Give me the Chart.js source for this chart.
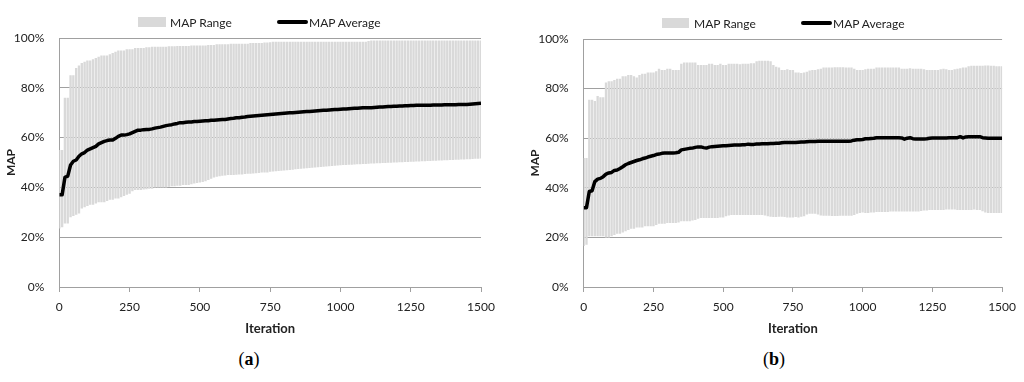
<!DOCTYPE html>
<html>
<head>
<meta charset="utf-8">
<script src="https://cdn.jsdelivr.net/npm/chart.js@4.4.0/dist/chart.umd.min.js"></script>
<style>
  body { margin: 0; background: #fff; width: 1024px; height: 382px; overflow: hidden; position: relative; font-family: Lato, "Open Sans", sans-serif; }
  canvas { position: absolute; top: 0; }
  .swatch { position: absolute; height: 10px; background: #d9d9d9; }
  .lineKey { position: absolute; height: 4px; background: #000; border-radius: 2px; }
  .legText { position: absolute; font-size: 12px; line-height: 14px; color: #222; white-space: nowrap; }
  .caption { position: absolute; top: 349px; width: 100px; text-align: center; font-family: "Liberation Serif", serif; font-size: 18px; color: #000; }
</style>
</head>
<body>
<canvas id="chartA" width="512" height="345" style="left:0px"></canvas>
<canvas id="chartB" width="512" height="345" style="left:512px"></canvas>

<!-- legends -->
<div class="swatch" style="left:138px; top:17px; width:28px;"></div>
<div class="legText" style="left:170px; top:16px;">MAP Range</div>
<div class="lineKey" style="left:277px; top:20px; width:31px;"></div>
<div class="legText" style="left:309px; top:16px;">MAP Average</div>

<div class="swatch" style="left:662px; top:18px; width:27px;"></div>
<div class="legText" style="left:694px; top:17px;">MAP Range</div>
<div class="lineKey" style="left:801px; top:21px; width:31px;"></div>
<div class="legText" style="left:833px; top:17px;">MAP Average</div>

<div class="caption" style="left:199px;">(<b>a</b>)</div>
<div class="caption" style="left:724px;">(<b>b</b>)</div>

<script>
// iterations sampled every 10 steps, 0 .. 1500
const iterations = Array.from({ length: 151 }, (_, i) => i * 10);
const yTicks = [0, 20, 40, 60, 80, 100];

// panel (a)
const maxA = [55, 55, 76, 76, 85, 85, 88, 89, 90, 90.5,
  91, 91, 91.5, 92, 92.5, 93, 93, 93, 93.5, 94,
  94.5, 95, 95, 95, 95.5, 95.5, 95.5, 96, 96, 96,
  96, 96.3, 96.3, 96.5, 96.5, 96.5, 96.5, 96.5, 96.5, 96.7,
  96.7, 96.7, 96.8, 96.8, 96.8, 96.8, 96.8, 97, 97, 97,
  97, 97, 97, 97.2, 97.2, 97.2, 97.5, 97.5, 97.5, 97.5,
  97.5, 97.7, 97.7, 97.7, 97.7, 97.7, 97.7, 97.7, 98, 98,
  98, 98, 98, 98.2, 98.2, 98.3, 98.5, 98.5, 98.5, 98.5,
  98.5, 98.5, 98.5, 98.5, 98.5, 98.5, 98.5, 98.5, 98.5, 98.5,
  98.5, 98.5, 98.5, 98.5, 98.5, 98.5, 98.5, 98.5, 98.5, 98.5,
  98.5, 98.5, 98.5, 98.5, 98.5, 98.5, 98.5, 98.5, 98.5, 98.5,
  98.8, 99, 99, 99, 99, 99, 99, 99, 99, 99,
  99, 99, 99, 99, 99, 99, 99, 99, 99, 99,
  99, 99, 99, 99, 99, 99, 99, 99, 99, 99,
  99, 99, 99, 99, 99, 99, 99, 99, 99, 99, 99];

const minA = [23.5, 24, 25.5, 25.5, 28, 28.5, 29, 29.5, 31.5, 32,
  32.5, 33, 33, 33.5, 34, 34, 34, 34.5, 35, 35,
  35.5, 35.5, 36, 36.5, 37, 37.5, 38.5, 39, 39, 39,
  39.2, 39.3, 39.5, 39.5, 40, 40, 40, 40, 40, 40.3,
  40.5, 40.5, 40.7, 40.7, 41, 41, 41, 41.3, 41.6, 41.8,
  42, 42.2, 42.5, 43, 43.5, 44, 44.3, 44.5, 44.7, 44.8,
  45, 45, 45, 45.1, 45.2, 45.2, 45.4, 45.5, 45.5, 45.6,
  45.7, 45.8, 46, 46, 46, 46.3, 46.4, 46.5, 46.6, 46.7,
  46.8, 46.9, 47, 47.1, 47.3, 47.4, 47.5, 47.6, 47.7, 47.8,
  47.9, 48, 48.1, 48.2, 48.3, 48.4, 48.5, 48.6, 48.7, 48.8,
  48.9, 49, 49, 49.1, 49.1, 49.2, 49.3, 49.3, 49.4, 49.4,
  49.5, 49.6, 49.6, 49.7, 49.7, 49.8, 49.8, 49.9, 49.9, 50,
  50, 50.1, 50.1, 50.2, 50.2, 50.3, 50.3, 50.4, 50.4, 50.5,
  50.5, 50.6, 50.6, 50.7, 50.7, 50.8, 50.8, 50.9, 50.9, 51,
  51, 51.1, 51.1, 51.2, 51.2, 51.3, 51.3, 51.4, 51.5, 51.5, 51.6];

const avgA = [37, 37, 44, 44.5, 49, 50.5, 51, 52.5, 53.5, 54,
  55, 55.5, 56, 56.5, 57.5, 58, 58.5, 58.8, 59, 59,
  59.7, 60.5, 61, 61, 61.2, 61.5, 62, 62.5, 63, 63,
  63.2, 63.3, 63.3, 63.5, 63.8, 64, 64.2, 64.5, 64.8, 65,
  65.2, 65.5, 65.7, 66, 66, 66.2, 66.3, 66.3, 66.5, 66.5,
  66.6, 66.7, 66.8, 66.8, 67, 67, 67.1, 67.2, 67.3, 67.3,
  67.5, 67.7, 67.8, 68, 68, 68.2, 68.3, 68.5, 68.6, 68.7,
  68.8, 68.9, 69, 69.1, 69.2, 69.3, 69.4, 69.5, 69.6, 69.7,
  69.8, 69.9, 70, 70, 70.1, 70.2, 70.3, 70.4, 70.5, 70.5,
  70.6, 70.7, 70.8, 70.9, 71, 71, 71.1, 71.2, 71.3, 71.3,
  71.4, 71.5, 71.5, 71.6, 71.7, 71.8, 71.8, 71.9, 72, 72,
  72, 72, 72.1, 72.2, 72.3, 72.3, 72.4, 72.5, 72.5, 72.6,
  72.6, 72.7, 72.7, 72.8, 72.8, 72.9, 72.9, 73, 73, 73,
  73, 73, 73, 73.1, 73.1, 73.1, 73.1, 73.2, 73.2, 73.2,
  73.2, 73.2, 73.3, 73.3, 73.3, 73.3, 73.4, 73.5, 73.6, 73.7, 73.8];

// panel (b)
const maxB = [52, 52, 75.5, 75.5, 75, 77, 76.5, 76.5, 82.5, 83,
  83, 83.5, 84, 84, 85, 85, 85.5, 85.5, 85, 84.5,
  85.5, 86, 86, 86.5, 86.5, 86.5, 87, 88, 87.5, 87.5,
  88, 88, 87.5, 87.5, 87.5, 90, 90.5, 90.5, 90.5, 90.5,
  90.5, 89.5, 89.5, 89.5, 89.5, 90, 90, 89.5, 89.5, 90,
  89.5, 89.5, 90, 90, 90, 90, 89.8, 90, 90, 90,
  90.2, 90.2, 91, 91.2, 91.2, 91.2, 91.2, 91, 89.5, 88.8,
  88.5, 87.5, 87.5, 87.8, 87.5, 87.5, 86.5, 86.5, 86.3, 86.5,
  86.8, 87.3, 87.5, 87.5, 87.8, 88, 88.5, 88.5, 88.5, 88.5,
  88.6, 88.6, 88.6, 88.6, 88.5, 88.5, 88.5, 88, 87.5, 87.5,
  87.5, 87.8, 88, 88, 88, 88.5, 88.5, 88.5, 88.5, 88.5,
  88.5, 88.5, 88.5, 88.5, 88, 88, 88, 88.2, 88, 88,
  88, 88, 87.8, 87.5, 87.5, 87.5, 87.5, 87.5, 87.8, 88,
  87.8, 87.5, 87.5, 87.8, 88, 88.2, 88.5, 88.5, 89, 89.2,
  89.2, 89.2, 89.2, 89.2, 89.3, 89.3, 89.2, 89.2, 89, 89, 89];

const minB = [16.5, 17, 20.5, 20.5, 20.5, 20.5, 20.5, 20.5, 20, 20,
  20.5, 21, 21.5, 21.5, 22, 22.5, 23, 23.5, 23.5, 24,
  24, 24, 24.5, 24.5, 24.5, 24.5, 25, 25.5, 25.5, 25.5,
  25.8, 25.8, 25.8, 25.8, 26, 26.5, 26.5, 26.5, 26.5, 26.8,
  27, 27.5, 27.8, 27.8, 27.8, 27.8, 27.8, 27.8, 27.8, 28,
  28, 28.5, 28.8, 29, 29, 29, 29, 29, 29, 29,
  29, 29, 29, 29, 29, 28.8, 28.5, 28.3, 28.2, 28.2,
  28.3, 28.3, 28.2, 28, 28, 28, 28.2, 28, 28.3, 28.5,
  29.2, 29.5, 29.5, 29.5, 29.2, 28.8, 28.7, 28.7, 28.7, 28.6,
  28.6, 28.6, 28.7, 28.7, 28.7, 28.7, 28.7, 29, 29.5, 29.8,
  30, 29.8, 29.8, 30, 30, 30.2, 30.2, 30.2, 30.2, 30.2,
  30.4, 30.4, 30.4, 30.4, 30.4, 30.4, 30.4, 30.4, 30.4, 30.4,
  30.4, 30.6, 30.8, 30.8, 31, 31, 31, 31, 31, 31,
  31.2, 31.2, 31.2, 31.2, 31, 31, 31, 31, 31, 31,
  31.2, 31, 31, 30.5, 30, 29.8, 29.8, 29.8, 29.8, 29.8, 29.8];

const avgB = [32, 32, 38.5, 38.8, 42.5, 43.5, 43.8, 44.5, 45.5, 46,
  46.2, 47, 47.2, 47.8, 48.5, 49.3, 49.8, 50.2, 50.6, 51,
  51.3, 51.7, 52, 52.4, 52.7, 53, 53.4, 53.6, 53.9, 54,
  54, 54, 54, 54.1, 54.3, 55.3, 55.5, 55.7, 55.9, 56,
  56.3, 56.5, 56.5, 56.2, 56, 56.4, 56.6, 56.7, 56.8, 56.9,
  57, 57, 57.1, 57.2, 57.3, 57.3, 57.3, 57.4, 57.4, 57.6,
  57.5, 57.5, 57.7, 57.7, 57.8, 57.8, 57.8, 57.9, 57.9, 58,
  58, 58.2, 58.3, 58.3, 58.3, 58.3, 58.3, 58.4, 58.5, 58.5,
  58.6, 58.7, 58.7, 58.7, 58.8, 58.8, 58.8, 58.8, 58.8, 58.8,
  58.8, 58.8, 58.8, 58.8, 58.8, 58.8, 58.9, 59.2, 59.4, 59.4,
  59.5, 59.8, 59.8, 59.9, 60, 60.2, 60.2, 60.2, 60.2, 60.2,
  60.2, 60.2, 60.2, 60.2, 60.1, 59.6, 60, 60.2, 59.8, 59.7,
  59.7, 59.7, 59.7, 59.8, 60, 60.1, 60.1, 60.1, 60.1, 60.1,
  60.1, 60.2, 60.2, 60.2, 60.2, 60.6, 60.1, 60.5, 60.6, 60.6,
  60.6, 60.6, 60.6, 60.2, 60.1, 60, 60, 60, 60, 60, 60];

Chart.defaults.font.family = 'Lato, "Open Sans", sans-serif';
Chart.defaults.color = '#222';

const gridGray = '#a0a0a0';

function buildChart(canvasId, mins, maxs, avgs, pad) {
    const ranges = iterations.map((it, i) => ({ x: it, y: [mins[i], maxs[i]] }));
    const avgPoints = iterations.map((it, i) => ({ x: it, y: avgs[i] }));

    return new Chart(document.getElementById(canvasId), {
        type: 'bar',
        data: {
            datasets: [{
                type: 'line',
                label: 'MAP Average',
                data: avgPoints,
                borderColor: '#000',
                backgroundColor: '#000',
                borderWidth: 3.5,
                pointRadius: 0,
                tension: 0,
                borderJoinStyle: 'round',
                order: 0
            }, {
                type: 'bar',
                label: 'MAP Range',
                data: ranges,
                backgroundColor: '#d9d9d9',
                barPercentage: 1,
                categoryPercentage: 0.84,
                order: 1
            }]
        },
        options: {
            responsive: false,
            animation: false,
            layout: { padding: { left: pad.left, right: pad.right, top: pad.top, bottom: 8 } },
            plugins: { legend: { display: false }, tooltip: { enabled: false } },
            scales: {
                x: {
                    type: 'linear',
                    min: 0,
                    max: 1500,
                    offset: false,
                    ticks: { stepSize: 250, padding: 8, font: { size: 12 }, maxRotation: 0, callback: (v) => String(v) },
                    grid: { drawOnChartArea: false, drawTicks: true, tickLength: 5, color: gridGray, offset: false },
                    border: { color: gridGray },
                    title: { display: true, text: 'Iteration', font: { size: 13, weight: 'bold' }, padding: 0 },
                    afterFit: (scale) => { scale.height = 50; }
                },
                y: {
                    min: 0,
                    max: 100,
                    afterBuildTicks: (scale) => { scale.ticks = yTicks.map(v => ({ value: v })); },
                    ticks: { padding: 15, font: { size: 12 }, callback: (v) => v + '%' },
                    grid: { color: gridGray, drawTicks: false },
                    border: { color: gridGray },
                    title: { display: true, text: 'MAP', font: { size: 12, weight: 'bold' }, padding: 0 },
                    afterFit: (scale) => { scale.width = pad.yWidth; }
                }
            }
        }
    });
}

buildChart('chartA', minA, maxA, avgA, { left: 4, right: 31, top: 38, yWidth: 55.3 });
buildChart('chartB', minB, maxB, avgB, { left: 16, right: 19, top: 39, yWidth: 55.7 });
</script>
</body>
</html>
